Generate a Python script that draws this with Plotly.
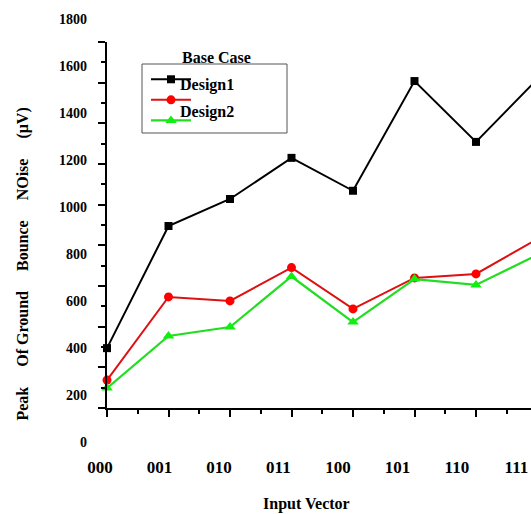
import plotly.graph_objects as go

# ---- data ----
input_vectors = ["000", "001", "010", "011", "100", "101", "110", "111"]
design_base = [400, 920, 1035, 1210, 1070, 1537, 1278, 1546]     # black squares
design_red = [264, 618, 601, 743, 567, 699, 716, 865]            # red circles
design_green = [230, 452, 490, 705, 511, 694, 669, 797]          # green triangles
y_tick_labels = [0, 200, 400, 600, 800, 1000, 1200, 1400, 1600, 1800]

FONT = "Liberation Serif"
idx = list(range(len(input_vectors)))

LEFT, RIGHT, TOP, BOTTOM = 60, 531, 10, 450   # plot area in window pixels
W, H = 531, 514
ml, mr, mt, mb = LEFT, W - RIGHT, TOP, H - BOTTOM
ph = BOTTOM - TOP
pw = RIGHT - LEFT

def py(pix):
    return (BOTTOM - pix) / ph

def px(pix):
    return (pix - LEFT) / pw

fig = go.Figure()
fig.add_trace(go.Scatter(x=idx, y=design_base, mode="lines+markers", name="",
                         line=dict(color="black", width=2),
                         marker=dict(symbol="square", size=8, color="black"),
                         cliponaxis=False))
fig.add_trace(go.Scatter(x=idx, y=design_red, mode="lines+markers", name="",
                         line=dict(color="#dd1111", width=2),
                         marker=dict(symbol="circle", size=9, color="#ff0000"),
                         cliponaxis=False))
fig.add_trace(go.Scatter(x=idx, y=design_green, mode="lines+markers", name="",
                         line=dict(color="#22dd22", width=2.2),
                         marker=dict(symbol="triangle-up", size=10, color="#11ee11"),
                         cliponaxis=False))
# empty holder so the label-only axes get drawn
fig.add_trace(go.Scatter(x=[None], y=[None], xaxis="x2", yaxis="y2", mode="markers",
                         showlegend=False, hoverinfo="skip"))

# label scale: pixel = 442.1 - 0.2349*v
lab_a, lab_b = 442.1, 0.2349
y_lo = (lab_a - 408) / lab_b
y_hi = (lab_a - 42) / lab_b
dmaj = (y_hi - y_lo) / 9
x_hi = (531 - 107) / 61.5

axis_common = dict(showgrid=False, zeroline=False, color="black")

fig.update_layout(
    width=W, height=H,
    margin=dict(l=ml, r=mr, t=mt, b=mb, pad=0),
    paper_bgcolor="white", plot_bgcolor="rgba(0,0,0,0)",
    showlegend=True,
    xaxis=dict(domain=[px(107), 1], anchor="y", range=[0, x_hi], tick0=0, dtick=1,
               ticks="outside", ticklen=7, tickwidth=2, showline=True, linewidth=2,
               linecolor="black", showticklabels=False,
               minor=dict(dtick=0.5, tick0=0, ticks="outside", ticklen=4, tickwidth=1.5),
               **axis_common),
    yaxis=dict(domain=[py(408), py(42)], anchor="x", range=[y_lo, y_hi],
               tick0=y_lo, dtick=dmaj, ticks="outside", ticklen=7, tickwidth=2,
               showline=True, linewidth=2, linecolor="black", showticklabels=False,
               minor=dict(tick0=y_lo, dtick=dmaj / 2, ticks="outside", ticklen=4, tickwidth=1.5),
               **axis_common),
    xaxis3=dict(overlaying="x", side="top", anchor="y", range=[0, x_hi], tick0=0, dtick=1,
                ticks="inside", ticklen=6, tickwidth=1.5, showline=True, linewidth=2,
                linecolor="black", showticklabels=False,
                minor=dict(dtick=0.5, tick0=0, ticks="inside", ticklen=3, tickwidth=1.5),
                **axis_common),
    yaxis3=dict(overlaying="y", side="right", anchor="x", range=[y_lo, y_hi],
                tick0=y_lo, dtick=dmaj, ticks="inside", ticklen=4, tickwidth=1.5,
                showline=False, showticklabels=False, **axis_common),
    xaxis2=dict(domain=[0, 1], anchor="y2",
                range=[(LEFT - 99.9) / 59.5, (RIGHT - 99.9) / 59.5],
                tickmode="array", tickvals=idx, ticktext=input_vectors, ticks="",
                showline=False, ticklabelstandoff=5,
                tickfont=dict(family=FONT, size=17, color="black", weight="bold"),
                **axis_common),
    yaxis2=dict(domain=[0, 1], anchor="free", position=px(107),
                range=[(lab_a - BOTTOM) / lab_b, (lab_a - TOP) / lab_b],
                tickmode="array", tickvals=y_tick_labels, ticks="", showline=False,
                ticklabelstandoff=20,
                tickfont=dict(family=FONT, size=14, color="black", weight="bold"),
                **axis_common),
    legend=dict(x=px(146), y=py(64), xanchor="left", yanchor="top",
                bgcolor="rgba(0,0,0,0)", borderwidth=0,
                font=dict(family=FONT, size=13.5), itemwidth=40),
)

fig.add_shape(type="rect", xref="paper", yref="paper",
              x0=px(142), x1=px(287), y0=py(133), y1=py(64),
              line=dict(color="#555555", width=1), fillcolor="rgba(0,0,0,0)")

ann_font = dict(family=FONT, size=16, color="black", weight="bold")
sp = "\u00a0" * 5
fig.add_annotation(text="Base Case", xref="paper", yref="paper", x=px(216), y=py(57),
                   xanchor="center", yanchor="middle", showarrow=False, font=ann_font)
fig.add_annotation(text="Design1", xref="paper", yref="paper", x=px(178), y=py(85),
                   xanchor="left", yanchor="middle", showarrow=False, font=ann_font)
fig.add_annotation(text="Design2", xref="paper", yref="paper", x=px(178), y=py(112),
                   xanchor="left", yanchor="middle", showarrow=False, font=ann_font)
fig.add_annotation(text="Peak" + sp + "Of Ground" + sp + "Bounce" + sp + "NOise" + sp + "(μV)",
                   xref="paper", yref="paper", x=px(22), y=py(264.5), textangle=-90,
                   xanchor="center", yanchor="middle", showarrow=False, font=ann_font)
fig.add_annotation(text="Input Vector", xref="paper", yref="paper", x=px(306.5), y=py(504),
                   xanchor="center", yanchor="middle", showarrow=False, font=ann_font)

fig.write_html("out.html", config={"displayModeBar": False},
               post_script="document.body.style.margin='0';document.body.style.overflow='hidden';")
